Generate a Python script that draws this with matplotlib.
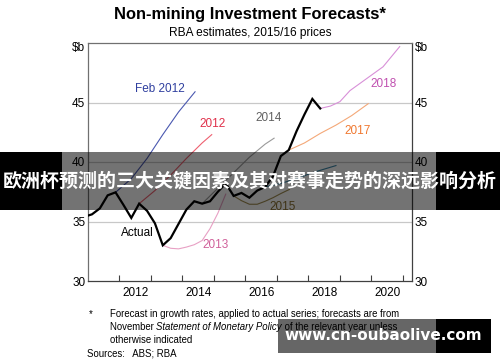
import matplotlib
matplotlib.use("Agg")
import matplotlib.pyplot as plt
from matplotlib.patches import Rectangle

# ---------------- data ----------------
actual_dates = [2010.875, 2011.125, 2011.375, 2011.625, 2011.875, 2012.125, 2012.375, 2012.625,
                2012.875, 2013.125, 2013.375, 2013.625, 2013.875, 2014.125, 2014.375, 2014.625,
                2014.875, 2015.125, 2015.375, 2015.625, 2015.875, 2016.125, 2016.375, 2016.625,
                2016.875, 2017.125, 2017.375, 2017.625, 2017.875, 2018.125, 2018.375]
actual_vals = [35.4, 35.6, 36.1, 37.2, 37.45, 36.4, 35.3, 36.5,
               35.9, 34.85, 33.0, 33.6, 34.8, 36.0, 36.7, 36.5,
               36.7, 37.5, 38.2, 37.15, 37.4, 37.0, 37.6, 37.9,
               38.8, 40.5, 41.0, 42.6, 44.0, 45.3, 44.5]

feb2012_dates = [2011.875, 2012.375, 2012.875, 2013.375, 2013.875, 2014.4]
feb2012_vals = [37.45, 38.6, 40.3, 42.3, 44.2, 45.9]

f2012_dates = [2012.625, 2013.125, 2013.625, 2014.125, 2014.625, 2014.93]
f2012_vals = [36.5, 37.6, 38.9, 40.3, 41.6, 42.3]

f2013_dates = [2013.375, 2013.625, 2013.875, 2014.125, 2014.375, 2014.625, 2014.875, 2015.125, 2015.375]
f2013_vals = [33.0, 32.75, 32.7, 32.85, 33.05, 33.4, 34.4, 35.7, 37.3]

f2014_dates = [2014.625, 2015.125, 2015.625, 2016.125, 2016.625, 2016.91]
f2014_vals = [36.5, 37.8, 39.1, 40.4, 41.5, 42.0]

f2015_dates = [2015.625, 2015.875, 2016.125, 2016.375, 2016.625, 2016.875, 2017.125, 2017.4]
f2015_vals = [37.15, 36.75, 36.45, 36.45, 36.7, 37.0, 37.35, 37.7]

f2016_dates = [2016.625, 2017.125, 2017.625, 2018.125, 2018.875]
f2016_vals = [37.9, 38.2, 38.6, 39.1, 39.7]

f2017_dates = [2017.375, 2017.875, 2018.375, 2018.875, 2019.375, 2019.9]
f2017_vals = [41.0, 41.6, 42.4, 43.1, 43.9, 44.9]

f2018_dates = [2018.375, 2018.7, 2019.0, 2019.32, 2019.95, 2020.37, 2020.9]
f2018_vals = [44.5, 44.7, 45.07, 46.0, 47.2, 48.0, 49.7]

year_ticks = [2012, 2013, 2014, 2015, 2016, 2017, 2018, 2019, 2020, 2021]
year_labels = ["2012", "2014", "2016", "2018", "2020"]
y_ticks = [30, 35, 40, 45]
y_labels = ["30", "35", "40", "45"]

plt.rcParams['font.family'] = ['Liberation Sans', 'DejaVu Sans']

fig = plt.figure(figsize=(5.0, 3.62), dpi=100)
ax = fig.add_axes([88/500, 1-281/362, (412-88)/500, (281-43)/362])
ax.set_xlim(2011.0, 2021.29)
ax.set_ylim(30, 50)

for yv in [35, 40, 45]:
    ax.axhline(yv, color="#c8c8c8", lw=0.9, zorder=1)

ax.plot(feb2012_dates, feb2012_vals, color="#4a58b0", lw=0.8, zorder=3)
ax.plot(f2012_dates, f2012_vals, color="#ee6070", lw=0.8, zorder=3)
ax.plot(f2013_dates, f2013_vals, color="#e8a0c4", lw=0.8, zorder=3)
ax.plot(f2014_dates, f2014_vals, color="#9a9a9a", lw=0.8, zorder=3)
ax.plot(f2015_dates, f2015_vals, color="#a08c50", lw=0.8, zorder=3)
ax.plot(f2016_dates, f2016_vals, color="#3c86a8", lw=0.8, zorder=3)
ax.plot(f2017_dates, f2017_vals, color="#f4a878", lw=0.8, zorder=3)
ax.plot(f2018_dates, f2018_vals, color="#d890d8", lw=0.8, zorder=3)
ax.plot(actual_dates, actual_vals, color="black", lw=1.6, zorder=4, solid_joinstyle="miter")

lab_fs = 8.5
ax.text(2013.29, 46.13, "Feb 2012", color="#2f3f9f", fontsize=lab_fs, ha="center", va="center")
ax.text(2014.97, 43.19, "2012", color="#e0304a", fontsize=lab_fs, ha="center", va="center")
ax.text(2016.75, 43.70, "2014", color="#606060", fontsize=lab_fs, ha="center", va="center")
ax.text(2015.06, 33.03, "2013", color="#d0609a", fontsize=lab_fs, ha="center", va="center")
ax.text(2012.56, 34.03, "Actual", color="black", fontsize=lab_fs, ha="center", va="center")
ax.text(2017.19, 36.22, "2015", color="#8a7030", fontsize=lab_fs, ha="center", va="center")
ax.text(2019.57, 42.6, "2017", color="#f07830", fontsize=lab_fs, ha="center", va="center")
ax.text(2020.4, 46.55, "2018", color="#c050b0", fontsize=lab_fs, ha="center", va="center")

# axes styling
for s in ["top", "left"]:
    ax.spines[s].set_color("#707070")
    ax.spines[s].set_linewidth(0.9)
ax.spines["bottom"].set_color("#404040")
ax.spines["bottom"].set_linewidth(0.9)
ax.spines["right"].set_color("#404040")
ax.spines["right"].set_linewidth(0.9)

ax.set_yticks(y_ticks)
ax.set_yticklabels(y_labels)
ax.tick_params(axis="y", length=0, labelsize=8.5, labelleft=True, labelright=True, pad=2)
# unit labels at the top of both axes
ax.text(-0.008, 49.6, r"\$b", transform=ax.get_yaxis_transform(), ha="right", va="center", fontsize=8.5)
ax.text(1.008, 49.6, r"\$b", transform=ax.get_yaxis_transform(), ha="left", va="center", fontsize=8.5)

ax.set_xticks(year_ticks)
ax.set_xticklabels([])
ax.tick_params(axis="x", direction="in", length=4, width=0.8, color="#404040")
for i, lab in enumerate(year_labels):
    ax.text(2012.5 + 2*i, -0.025, lab, transform=ax.get_xaxis_transform(),
            ha="center", va="top", fontsize=8.5)

# titles
fig.text(0.5, 1-15/362, "Non-mining Investment Forecasts*", ha="center", va="center",
         fontsize=11.9, fontweight="bold")
fig.text(0.5, 1-33/362, "RBA estimates, 2015/16 prices", ha="center", va="center", fontsize=8.6)

# footnotes
fn = 6.9
fig.text(89/500, 1-314/362, "*", fontsize=fn, va="center")
fig.text(110/500, 1-314/362, "Forecast in growth rates, applied to actual series; forecasts are from",
         fontsize=fn, va="center")
renderer = fig.canvas.get_renderer()
xcur = 110.0
for piece, sty in [("November ", "normal"), ("Statement of Monetary Policy", "italic"),
                   (" of the relevant year unless", "normal")]:
    t = fig.text(xcur/500, 1-327/362, piece, fontsize=fn, va="center", style=sty)
    bb = t.get_window_extent(renderer=renderer)
    xcur += bb.width
fig.text(110/500, 1-340/362, "otherwise indicated", fontsize=fn, va="center")
fig.text(87/500, 1-353/362, "Sources:   ABS; RBA", fontsize=fn, va="center")

# overlay banner
def frect(x0, y0, x1, y1, **kw):
    r = Rectangle((x0/500, 1-y1/362), (x1-x0)/500, (y1-y0)/362, transform=fig.transFigure,
                  zorder=20, lw=0, **kw)
    fig.add_artist(r)

frect(0, 152, 62, 210, facecolor="black")
frect(436, 152, 500, 210, facecolor="black")
frect(62, 152, 436, 210, facecolor="black", alpha=0.55)
fig.text(250/500, 1-181/362, "欧洲杯预测的三大关键因素及其对赛事走势的深远影响分析", ha="center", va="center",
         color="white", fontsize=13.7, fontweight="bold",
         family=["Noto Sans CJK SC", "DejaVu Sans"], zorder=21)

frect(278, 319, 436, 353, facecolor="black", alpha=0.6)
frect(436, 319, 491, 353, facecolor="black")
fig.text(383/500, 1-336/362, "www.cn-oubaolive.com", ha="center", va="center",
         color="white", fontsize=11, fontweight="bold", family=["DejaVu Sans"], zorder=21)

fig.savefig("out.png", dpi=100)
